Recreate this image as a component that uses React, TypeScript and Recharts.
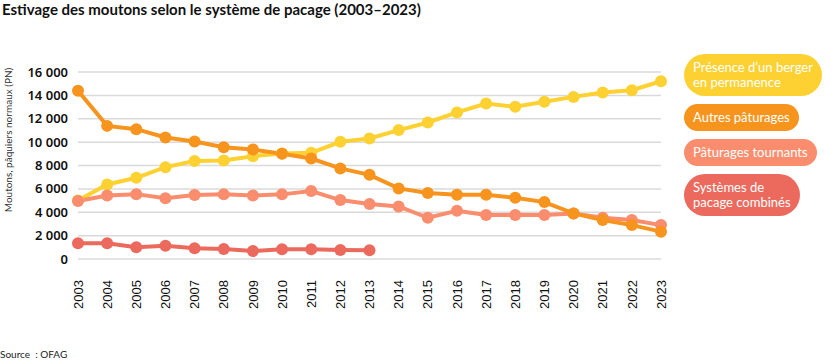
import React from 'react';
import { LineChart, Line, XAxis, YAxis, CartesianGrid } from 'recharts';

const years = ['2003','2004','2005','2006','2007','2008','2009','2010','2011','2012','2013','2014','2015','2016','2017','2018','2019','2020','2021','2022','2023'];
const berger = [5000, 6380, 6950, 7860, 8380, 8430, 8800, 9030, 9090, 10030, 10310, 11030, 11680, 12540, 13300, 13020, 13450, 13870, 14250, 14440, 15210];
const autres = [14400, 11390, 11110, 10400, 10060, 9570, 9370, 9000, 8600, 7750, 7200, 6040, 5640, 5500, 5500, 5240, 4870, 3900, 3330, 2900, 2340];
const tournants = [4960, 5440, 5550, 5190, 5470, 5530, 5440, 5530, 5810, 5040, 4700, 4500, 3530, 4130, 3760, 3760, 3760, 3900, 3530, 3330, 2900];
const combines: (number | null)[] = [1340, 1340, 1000, 1140, 910, 855, 680, 830, 830, 770, 740, null, null, null, null, null, null, null, null, null, null];
const yTicks = [0, 2000, 4000, 6000, 8000, 10000, 12000, 14000, 16000];

const seriesNames = {
  berger: 'Présence d’un berger\nen permanence',
  autres: 'Autres pâturages',
  tournants: 'Pâturages tournants',
  combines: 'Systèmes de\npacage combinés',
};
const colors = {
  berger: '#FDD131',
  autres: '#F7941E',
  tournants: '#F98D6D',
  combines: '#EB6A5D',
};
const legendOrder = ['berger', 'autres', 'tournants', 'combines'];

const data = years.map((y, i) => ({
  year: y,
  berger: berger[i],
  autres: autres[i],
  tournants: tournants[i],
  combines: combines[i],
}));

const fmt = (v: number) => {
  const s = String(v);
  return s.length > 3 ? s.slice(0, s.length - 3) + ' ' + s.slice(s.length - 3) : s;
};

const XTick = (props: any) => {
  const { x, payload } = props;
  const ty = 280;
  return (
    <text x={x} y={ty} transform={`rotate(-90, ${x}, ${ty})`} textAnchor="end" dy="0.36em"
      fontFamily="'Liberation Sans', Arial, sans-serif" fontSize={13} fill="#111">
      {payload.value}
    </text>
  );
};

const LegendBox = () => (
  <div style={{ position: 'absolute', left: 684, top: 54, display: 'flex', flexDirection: 'column', alignItems: 'flex-start' }}>
    {legendOrder.map((k) => (
      <div key={k} style={{
        background: (colors as any)[k],
        color: '#fff',
        borderRadius: 21,
        padding: '6px 9px 6px 9px',
        fontFamily: 'Lato, sans-serif',
        fontSize: 13,
        lineHeight: '15px',
        whiteSpace: 'pre-line',
        marginBottom: 8,
        textAlign: 'left',
      }}>{(seriesNames as any)[k]}</div>
    ))}
  </div>
);

export default function App() {
  return (
    <div style={{ position: 'fixed', left: 0, top: 0, width: 836, height: 364, background: '#fff' }}>
      <div style={{ position: 'absolute', left: 2, top: 0, fontFamily: 'Lato, sans-serif', fontWeight: 700, fontSize: 15, lineHeight: '18px', color: '#111', whiteSpace: 'nowrap' }}>
        Estivage des moutons selon le système de pacage (2003–2023)
      </div>
      <LineChart width={836} height={364} data={data} margin={{ top: 72, right: 175, left: 0, bottom: 45 }}>
        <CartesianGrid vertical={false} stroke="#dadada" strokeWidth={1.5} />
        <XAxis dataKey="year" axisLine={false} tickLine={false} interval={0} height={60} tick={<XTick />} />
        <YAxis width={78} domain={[0, 16000]} ticks={yTicks} axisLine={false} tickLine={false} tickMargin={4}
          tickFormatter={fmt}
          tick={{ fontFamily: "'Noto Sans', sans-serif", fontWeight: 600, fontSize: 13, fill: '#111' }}
        />
        <Line dataKey="berger" name={seriesNames.berger} stroke={colors.berger} strokeWidth={4} dot={{ r: 6, fill: colors.berger, stroke: 'none' }} activeDot={false} isAnimationActive={false} />
        <Line dataKey="tournants" name={seriesNames.tournants} stroke={colors.tournants} strokeWidth={4} dot={{ r: 6, fill: colors.tournants, stroke: 'none' }} activeDot={false} isAnimationActive={false} />
        <Line dataKey="autres" name={seriesNames.autres} stroke={colors.autres} strokeWidth={4} dot={{ r: 6, fill: colors.autres, stroke: 'none' }} activeDot={false} isAnimationActive={false} />
        <Line dataKey="combines" name={seriesNames.combines} stroke={colors.combines} strokeWidth={4} dot={{ r: 6, fill: colors.combines, stroke: 'none' }} activeDot={false} isAnimationActive={false} />
      </LineChart>
      <svg style={{ position: 'absolute', left: 0, top: 0 }} width={20} height={364}>
        <text x={9} y={140} transform="rotate(-90, 9, 140)" textAnchor="middle" dominantBaseline="middle"
          fontFamily="Lato, sans-serif" fontSize={10} fill="#333">
          Moutons, pâquiers normaux (PN)
        </text>
      </svg>
      <LegendBox />
      <div style={{ position: 'absolute', left: 0, top: 348, fontFamily: 'Lato, sans-serif', fontSize: 10, color: '#222', whiteSpace: 'pre' }}>
        Source  : OFAG
      </div>
    </div>
  );
}
